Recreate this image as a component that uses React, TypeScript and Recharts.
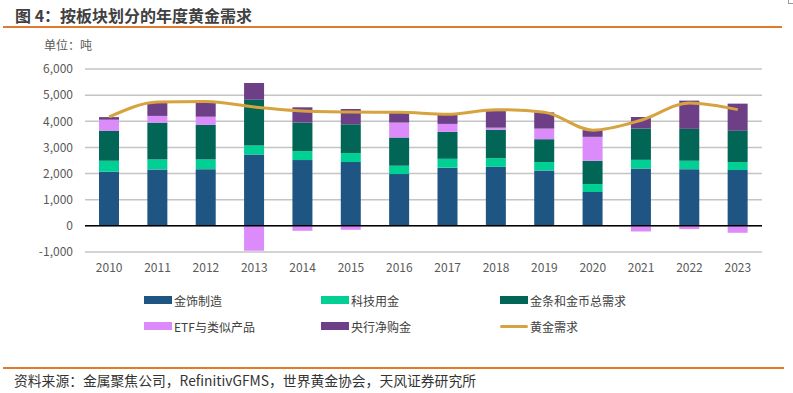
import React from "react";
import {
  ComposedChart,
  Bar,
  Line,
  XAxis,
  YAxis,
  CartesianGrid,
  ReferenceLine,
} from "recharts";

const years = ["2010", "2011", "2012", "2013", "2014", "2015", "2016", "2017", "2018", "2019", "2020", "2021", "2022", "2023"];
const jewelry = [2070, 2160, 2170, 2730, 2515, 2440, 1980, 2225, 2260, 2120, 1295, 2195, 2170, 2135];
const tech = [420, 380, 370, 345, 345, 345, 320, 340, 330, 320, 305, 330, 320, 305];
const barCoin = [1140, 1410, 1320, 1750, 1090, 1100, 1080, 1030, 1090, 875, 890, 1195, 1220, 1195];
const etf = [430, 255, 315, -950, -190, -150, 570, 305, 75, 405, 915, -215, -125, -265];
const centralBank = [100, 510, 535, 635, 585, 585, 380, 395, 635, 620, 255, 445, 1080, 1040];
const totalDemand = [4165, 4735, 4760, 4545, 4395, 4355, 4345, 4265, 4445, 4345, 3660, 4040, 4700, 4445];
const yTicks = [-1000, 0, 1000, 2000, 3000, 4000, 5000, 6000];

const seriesNames = {
  jewelry: "金饰制造",
  tech: "科技用金",
  barCoin: "金条和金币总需求",
  etf: "ETF与类似产品",
  cb: "央行净购金",
  total: "黄金需求",
};

const colors = {
  jewelry: "#1F5583",
  tech: "#00D093",
  barCoin: "#016656",
  etf: "#DC8BFB",
  cb: "#6C3F86",
  total: "#D6A33F",
};

const data = years.map((y, i) => ({
  year: y,
  jewelry: jewelry[i],
  tech: tech[i],
  barCoin: barCoin[i],
  etf: etf[i],
  cb: centralBank[i],
  total: totalDemand[i],
}));

const FONT = "'Noto Sans CJK SC', 'Noto Sans', sans-serif";

const legendOrder = ["jewelry", "tech", "barCoin", "etf", "cb", "total"];
const colX = [144, 321, 500];
const rowY = [300, 326];

const LegendBlock = () => (
  <>
    {legendOrder.map((k, i) => {
      const col = i % 3;
      const row = Math.floor(i / 3);
      const isLine = k === "total";
      return (
        <div
          key={k}
          style={{
            position: "absolute",
            left: colX[col],
            top: rowY[row] - 9,
            height: 18,
            display: "flex",
            alignItems: "center",
            fontFamily: FONT,
            fontSize: 12,
            color: "#404040",
            whiteSpace: "nowrap",
          }}
        >
          <span
            style={{
              display: "inline-block",
              width: 28,
              height: isLine ? 3 : 8,
              background: (colors as any)[k],
              marginRight: 2,
              borderRadius: isLine ? 2 : 0,
            }}
          />
          <span>{(seriesNames as any)[k]}</span>
        </div>
      );
    })}
  </>
);

export default function App() {
  return (
    <div style={{ position: "relative", width: 793, height: 393, background: "#fff", overflow: "hidden", fontFamily: FONT }}>
      <style>{`body{margin:0;}`}</style>
      <div
        style={{
          position: "absolute",
          left: 15,
          top: 4,
          fontSize: 16,
          fontWeight: 700,
          color: "#404040",
          fontFamily: FONT,
          lineHeight: "22px",
          whiteSpace: "nowrap",
        }}
      >
        图 4：按板块划分的年度黄金需求
      </div>
      <div style={{ position: "absolute", left: 3, top: 26, width: 779, height: 2, background: "#E07B2E" }} />
      <div style={{ position: "absolute", left: 788, top: 0, width: 4, height: 3, borderLeft: "1px solid #999", borderBottom: "1px solid #999" }} />
      <div
        style={{
          position: "absolute",
          left: 44,
          top: 37,
          fontSize: 12,
          color: "#595959",
          lineHeight: "16px",
          whiteSpace: "nowrap",
        }}
      >
        单位：吨
      </div>
      <div style={{ position: "absolute", left: 0, top: 0 }}>
        <ComposedChart
          width={793}
          height={393}
          data={data}
          stackOffset="sign"
          margin={{ top: 69, right: 31, bottom: 111, left: 25 }}
        >
          <CartesianGrid vertical={false} stroke="#C4C4C4" strokeWidth={1.5} />
          <XAxis
            dataKey="year"
            axisLine={false}
            tickLine={false}
            height={30}
            tickMargin={5}
            interval={0}
            tick={{ fill: "#595959", fontSize: 12, fontFamily: FONT }}
          />
          <YAxis
            width={60}
            domain={[-1000, 6000]}
            ticks={yTicks}
            interval={0}
            axisLine={false}
            tickLine={false}
            tickMargin={6}
            tickFormatter={(v: number) => v.toLocaleString("en-US")}
            tick={{ fill: "#595959", fontSize: 12, fontFamily: FONT }}
          />
          <ReferenceLine y={0} stroke="#000" strokeWidth={1.5} />
          <Bar dataKey="jewelry" name={seriesNames.jewelry} stackId="a" fill={colors.jewelry} barSize={20} isAnimationActive={false} />
          <Bar dataKey="tech" name={seriesNames.tech} stackId="a" fill={colors.tech} barSize={20} isAnimationActive={false} />
          <Bar dataKey="barCoin" name={seriesNames.barCoin} stackId="a" fill={colors.barCoin} barSize={20} isAnimationActive={false} />
          <Bar dataKey="etf" name={seriesNames.etf} stackId="a" fill={colors.etf} barSize={20} isAnimationActive={false} />
          <Bar dataKey="cb" name={seriesNames.cb} stackId="a" fill={colors.cb} barSize={20} isAnimationActive={false} />
          <Line
            dataKey="total"
            name={seriesNames.total}
            type="monotone"
            stroke={colors.total}
            strokeWidth={3}
            dot={false}
            activeDot={false}
            isAnimationActive={false}
          />
        </ComposedChart>
      </div>
      <LegendBlock />
      <div style={{ position: "absolute", left: 3, top: 367, width: 781, height: 1.5, background: "#E07B2E" }} />
      <div
        style={{
          position: "absolute",
          left: 14,
          top: 371,
          fontSize: 13.8,
          color: "#333",
          lineHeight: "18px",
          whiteSpace: "nowrap",
        }}
      >
        资料来源：金属聚焦公司，RefinitivGFMS，世界黄金协会，天风证券研究所
      </div>
    </div>
  );
}
